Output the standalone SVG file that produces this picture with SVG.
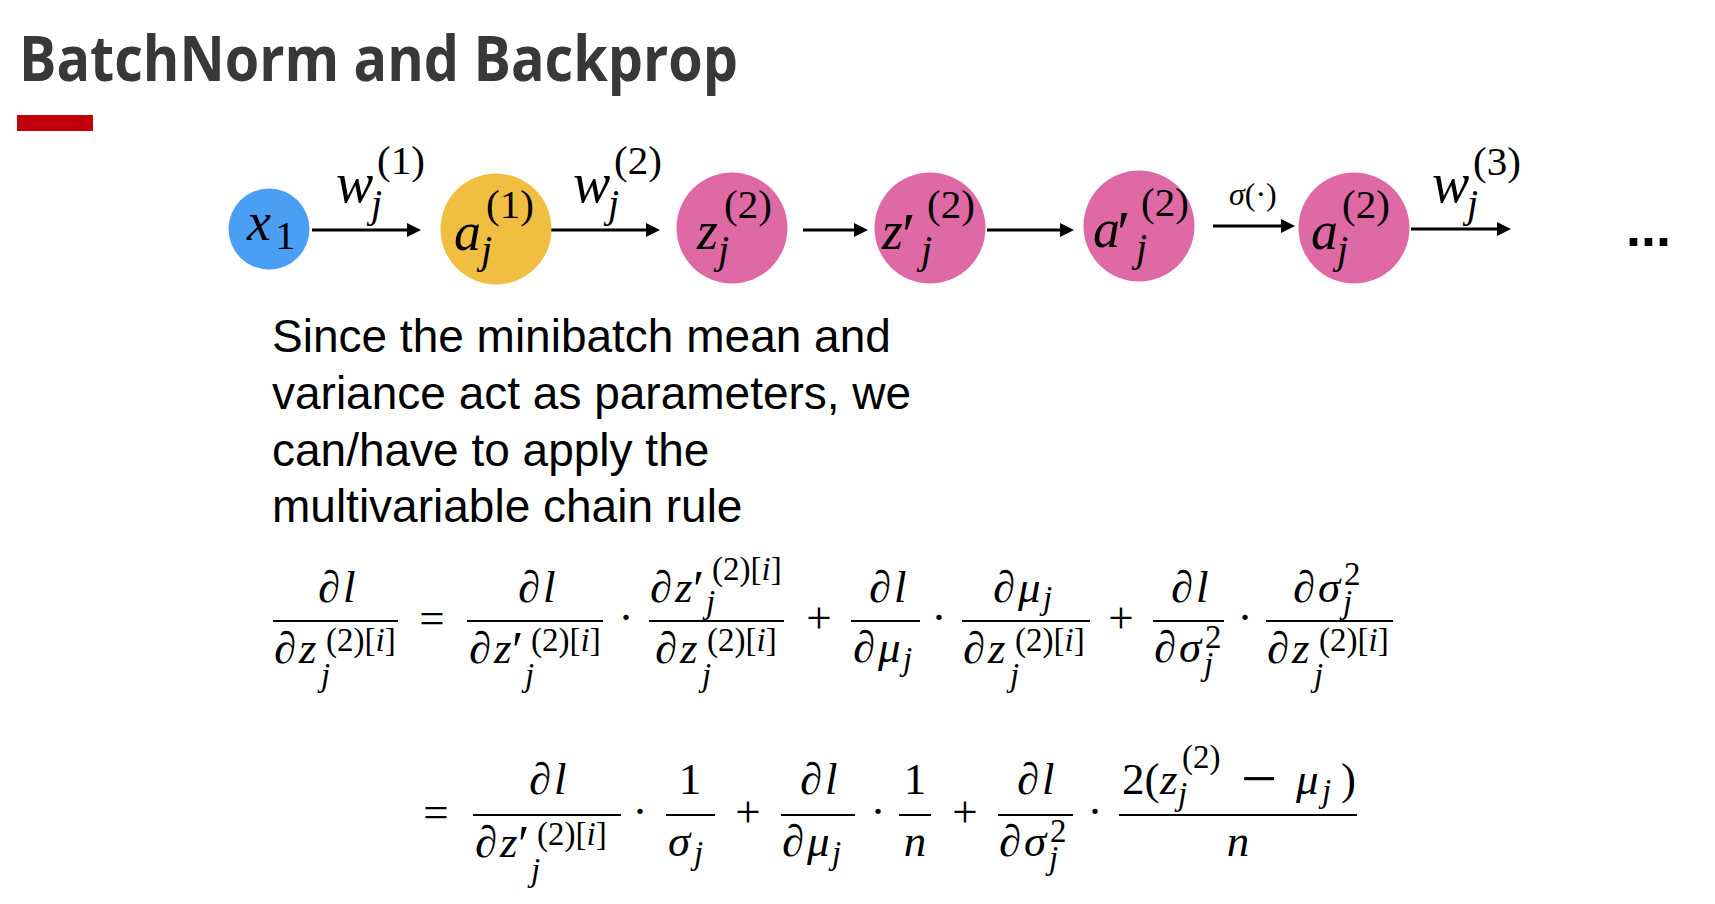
<svg xmlns="http://www.w3.org/2000/svg" width="1715" height="904" viewBox="0 0 1715 904">
<defs>
<style>
.title{font-family:"Open Sans",Lato,"Liberation Sans",sans-serif;font-weight:700;font-size:62px;fill:#383838}
.p{font-family:"Liberation Sans",Arial,sans-serif;font-size:46px;fill:#000}
.m{font-family:"Liberation Serif","DejaVu Serif",serif;font-style:italic;font-size:45px;fill:#000}
.r{font-family:"Liberation Serif","DejaVu Serif",serif;font-style:normal;font-size:45px;fill:#000}
.ms{font-family:"Liberation Serif","DejaVu Serif",serif;font-style:italic;font-size:33px;fill:#000}
.rs{font-family:"Liberation Serif","DejaVu Serif",serif;font-style:normal;font-size:33px;fill:#000}
.pr{font-family:"Liberation Serif","DejaVu Serif",serif;font-style:normal;font-size:52px;fill:#000}
.op{font-family:"Liberation Serif","DejaVu Serif",serif;font-size:45px;text-anchor:middle;fill:#000}
.c{text-anchor:middle}
.nm{font-family:"Liberation Serif","DejaVu Serif",serif;font-style:italic;font-size:54px;fill:#000}
.nw{font-family:"Liberation Serif","DejaVu Serif",serif;font-style:italic;font-size:56px;fill:#000}
.nr{font-family:"Liberation Serif","DejaVu Serif",serif;font-style:normal;font-size:41px;fill:#000}
.ns{font-family:"Liberation Serif","DejaVu Serif",serif;font-style:italic;font-size:40px;fill:#000}
.np{font-family:"Liberation Serif","DejaVu Serif",serif;font-style:normal;font-size:62px;fill:#000}
.bar{stroke:#000;stroke-width:2}
.arr{stroke:#000;stroke-width:3;fill:none;marker-end:url(#ah)}
.blue{fill:#4a9ff5}
.yel{fill:#f0be41}
.pink{fill:#de69a5}
</style>
<marker id="ah" markerUnits="userSpaceOnUse" markerWidth="14" markerHeight="14" refX="4" refY="7" orient="auto">
<path d="M0,0 L14,7 L0,14 z" fill="#000"/>
</marker>
</defs>
<rect width="1715" height="904" fill="#fff"/>

<g id="title">
<text class="title" x="19" y="81" textLength="719" lengthAdjust="spacingAndGlyphs">BatchNorm and Backprop</text>
<rect x="17" y="115" width="76" height="16" fill="#c0000b"/>
</g>

<g id="connectors">
<line class="arr" x1="312" y1="230" x2="411" y2="230"/>
<line class="arr" x1="551" y1="230" x2="650" y2="230"/>
<line class="arr" x1="803" y1="230" x2="858" y2="230"/>
<line class="arr" x1="987" y1="230" x2="1064" y2="230"/>
<line class="arr" x1="1213" y1="226" x2="1285" y2="226"/>
<line class="arr" x1="1411" y1="229" x2="1501" y2="229"/>
</g>

<g id="edge-labels">
<text class="nw" x="336" y="202">w</text><text class="nr" x="377" y="174">(1)</text><text class="ns" x="371" y="217">j</text>
<text class="nw" x="573" y="202">w</text><text class="nr" x="614" y="174">(2)</text><text class="ns" x="608" y="217">j</text>
<text class="ms" x="1229" y="205" style="font-size:32px">σ<tspan class="rs" style="font-size:32px">(·)</tspan></text>
<text class="nw" x="1432" y="202">w</text><text class="nr" x="1473" y="175">(3)</text><text class="ns" x="1467" y="217">j</text>
</g>

<g id="node-x1">
<circle class="blue" cx="269" cy="229" r="40.5"/>
<text class="nm" x="247" y="240">x</text><text class="nr" x="275" y="249">1</text>
</g>
<g id="node-a1">
<circle class="yel" cx="496" cy="229" r="55.5"/>
<text class="nm" x="454" y="250">a</text><text class="nr" x="486" y="218">(1)</text><text class="ns" x="481" y="263">j</text>
</g>
<g id="node-z2">
<circle class="pink" cx="732" cy="228" r="55.5"/>
<text class="nm" x="697" y="249">z</text><text class="nr" x="724" y="218">(2)</text><text class="ns" x="718" y="263">j</text>
</g>
<g id="node-zp2">
<circle class="pink" cx="930" cy="228" r="55.5"/>
<text class="nm" x="882" y="249">z</text><text class="np" x="902" y="255">′</text><text class="nr" x="927" y="218">(2)</text><text class="ns" x="921" y="263">j</text>
</g>
<g id="node-ap2">
<circle class="pink" cx="1139" cy="226" r="55.5"/>
<text class="nm" x="1093" y="247">a</text><text class="np" x="1117" y="253">′</text><text class="nr" x="1141" y="216">(2)</text><text class="ns" x="1136" y="261">j</text>
</g>
<g id="node-a2">
<circle class="pink" cx="1354" cy="228" r="55.5"/>
<text class="nm" x="1311" y="249">a</text><text class="nr" x="1342" y="218">(2)</text><text class="ns" x="1337" y="263">j</text>
</g>
<g id="ellipsis">
<text x="1626" y="246" style="font-family:'Liberation Sans',Arial,sans-serif;font-weight:700;font-size:54px">...</text>
</g>

<g id="paragraph">
<text class="p" x="272" y="352">Since the minibatch mean and</text>
<text class="p" x="272" y="409">variance act as parameters, we</text>
<text class="p" x="272" y="466">can/have to apply the</text>
<text class="p" x="272" y="522">multivariable chain rule</text>
</g>

<g id="eq1">
<!-- LHS -->
<text class="m"><tspan x="318" y="602">∂</tspan><tspan x="343" y="602">l</tspan></text>
<line class="bar" x1="273" y1="621" x2="398" y2="621"/>
<text class="m"><tspan x="274" y="663">∂</tspan><tspan x="299" y="663">z</tspan></text>
<text class="rs" x="326" y="651">(2)[<tspan class="ms">i</tspan>]</text>
<text class="ms" x="321" y="686">j</text>
<text class="op" x="432" y="633">=</text>
<!-- F2 -->
<text class="m"><tspan x="518" y="602">∂</tspan><tspan x="543" y="602">l</tspan></text>
<line class="bar" x1="467" y1="621" x2="603" y2="621"/>
<text class="m"><tspan x="469" y="663">∂</tspan><tspan x="494" y="663">z</tspan></text><text class="pr" x="512" y="668">′</text>
<text class="rs" x="531" y="651">(2)[<tspan class="ms">i</tspan>]</text>
<text class="ms" x="525" y="686">j</text>
<text class="op" x="626" y="632">·</text>
<!-- F3 -->
<text class="m"><tspan x="650" y="602">∂</tspan><tspan x="675" y="602">z</tspan></text><text class="pr" x="693" y="607">′</text>
<text class="rs" x="712" y="580">(2)[<tspan class="ms">i</tspan>]</text>
<text class="ms" x="706" y="613">j</text>
<line class="bar" x1="649" y1="621" x2="784" y2="621"/>
<text class="m"><tspan x="655" y="663">∂</tspan><tspan x="680" y="663">z</tspan></text>
<text class="rs" x="707" y="651">(2)[<tspan class="ms">i</tspan>]</text>
<text class="ms" x="702" y="686">j</text>
<text class="op" x="819" y="633">+</text>
<!-- F4 -->
<text class="m"><tspan x="869" y="602">∂</tspan><tspan x="894" y="602">l</tspan></text>
<line class="bar" x1="851" y1="621" x2="920" y2="621"/>
<text class="m"><tspan x="853" y="662">∂</tspan><tspan x="878" y="662">μ</tspan></text>
<text class="ms" x="903" y="670">j</text>
<text class="op" x="939" y="632">·</text>
<!-- F5 -->
<text class="m"><tspan x="993" y="602">∂</tspan><tspan x="1018" y="602">μ</tspan></text>
<text class="ms" x="1043" y="609">j</text>
<line class="bar" x1="962" y1="621" x2="1090" y2="621"/>
<text class="m"><tspan x="963" y="663">∂</tspan><tspan x="988" y="663">z</tspan></text>
<text class="rs" x="1015" y="651">(2)[<tspan class="ms">i</tspan>]</text>
<text class="ms" x="1010" y="686">j</text>
<text class="op" x="1121" y="633">+</text>
<!-- F6 -->
<text class="m"><tspan x="1171" y="602">∂</tspan><tspan x="1196" y="602">l</tspan></text>
<line class="bar" x1="1153" y1="621" x2="1224" y2="621"/>
<text class="m"><tspan x="1154" y="662">∂</tspan><tspan x="1179" y="662">σ</tspan></text>
<text class="rs" x="1205" y="648">2</text>
<text class="ms" x="1204" y="675">j</text>
<text class="op" x="1245" y="632">·</text>
<!-- F7 -->
<text class="m"><tspan x="1293" y="602">∂</tspan><tspan x="1318" y="602">σ</tspan></text>
<text class="rs" x="1344" y="585">2</text>
<text class="ms" x="1343" y="613">j</text>
<line class="bar" x1="1266" y1="621" x2="1393" y2="621"/>
<text class="m"><tspan x="1267" y="663">∂</tspan><tspan x="1292" y="663">z</tspan></text>
<text class="rs" x="1319" y="651">(2)[<tspan class="ms">i</tspan>]</text>
<text class="ms" x="1314" y="686">j</text>
</g>

<g id="eq2">
<text class="op" x="436" y="827">=</text>
<!-- FA -->
<text class="m"><tspan x="529" y="794">∂</tspan><tspan x="554" y="794">l</tspan></text>
<line class="bar" x1="473" y1="815" x2="621" y2="815"/>
<text class="m"><tspan x="475" y="857">∂</tspan><tspan x="500" y="857">z</tspan></text><text class="pr" x="518" y="862">′</text>
<text class="rs" x="537" y="845">(2)[<tspan class="ms">i</tspan>]</text>
<text class="ms" x="531" y="881">j</text>
<text class="op" x="640" y="826">·</text>
<!-- FB -->
<text class="r c" x="690" y="794">1</text>
<line class="bar" x1="666" y1="815" x2="715" y2="815"/>
<text class="m" x="668" y="856">σ</text>
<text class="ms" x="694" y="864">j</text>
<text class="op" x="748" y="827">+</text>
<!-- FC -->
<text class="m"><tspan x="800" y="794">∂</tspan><tspan x="825" y="794">l</tspan></text>
<line class="bar" x1="781" y1="815" x2="855" y2="815"/>
<text class="m"><tspan x="782" y="856">∂</tspan><tspan x="807" y="856">μ</tspan></text>
<text class="ms" x="832" y="864">j</text>
<text class="op" x="878" y="826">·</text>
<!-- FD -->
<text class="r c" x="915" y="794">1</text>
<line class="bar" x1="899" y1="815" x2="931" y2="815"/>
<text class="m c" x="915" y="856">n</text>
<text class="op" x="965" y="827">+</text>
<!-- FE -->
<text class="m"><tspan x="1017" y="794">∂</tspan><tspan x="1042" y="794">l</tspan></text>
<line class="bar" x1="998" y1="815" x2="1073" y2="815"/>
<text class="m"><tspan x="999" y="856">∂</tspan><tspan x="1024" y="856">σ</tspan></text>
<text class="rs" x="1050" y="842">2</text>
<text class="ms" x="1049" y="869">j</text>
<text class="op" x="1095" y="826">·</text>
<!-- FF -->
<text class="r" x="1122" y="794">2(</text>
<text class="m" x="1160" y="794">z</text>
<text class="rs" x="1182" y="768">(2)</text>
<text class="ms" x="1178" y="805">j</text>
<text class="op" x="1259" y="800" style="font-size:64px">−</text>
<text class="m" x="1296" y="794">μ</text>
<text class="ms" x="1322" y="802">j</text>
<text class="r" x="1341" y="794">)</text>
<line class="bar" x1="1119" y1="815" x2="1357" y2="815"/>
<text class="m c" x="1238" y="856">n</text>
</g>
</svg>
